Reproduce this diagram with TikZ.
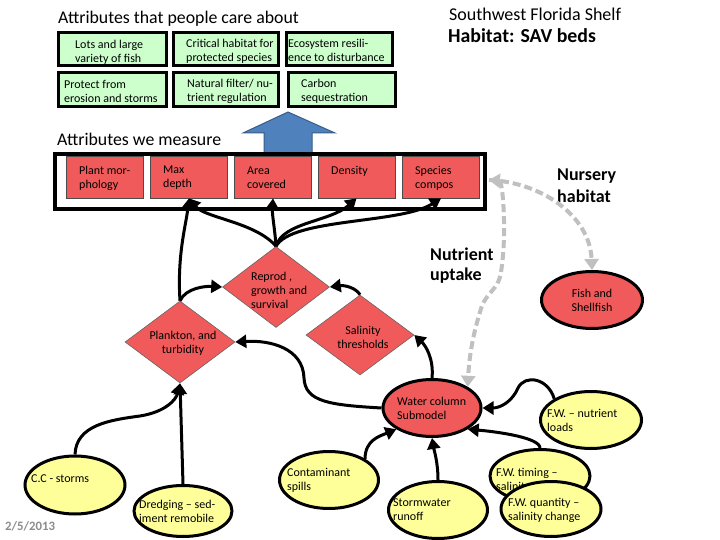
\documentclass[tikz,border=0pt]{standalone}
\usepackage{fontspec}
\setmainfont{Carlito}
\usetikzlibrary{shapes.geometric,arrows.meta}
\definecolor{grn}{HTML}{CCFFCC}
\definecolor{rd}{HTML}{F05A5A}
\definecolor{yl}{HTML}{FFFF99}
\definecolor{bl}{HTML}{4F81BD}
\definecolor{bld}{HTML}{385D8A}
\definecolor{gr}{HTML}{C0C0C0}
\begin{document}
\begin{tikzpicture}[x=1pt,y=-1pt,
  txt/.style={inner sep=0pt, align=left, font=\fontsize{12}{14}\selectfont},
  ctxt/.style={inner sep=0pt, align=center, font=\fontsize{12}{14}\selectfont},
  gbox/.style={draw=black, line width=3pt, fill=grn, inner sep=0pt},
  rbox/.style={draw=black!70, line width=0.8pt, fill=rd, inner sep=0pt, minimum width=77pt, minimum height=42pt},
  dia/.style={diamond, draw=black!60, line width=0.6pt, fill=rd, inner sep=0pt},
  ell/.style={ellipse, draw=black, line width=3pt, fill=yl, inner sep=0pt},
  rell/.style={ellipse, draw=black, line width=3pt, fill=rd, inner sep=0pt},
  arr/.style={line width=3pt, -{Triangle[length=11pt,width=13pt]}},
  garr/.style={draw=gr, line width=4pt, dash pattern=on 8pt off 4pt, -{Triangle[length=11pt,width=14pt]}},
  gdarr/.style={draw=gr, line width=4pt, dash pattern=on 8pt off 4pt, {Triangle[length=11pt,width=14pt]}-{Triangle[length=11pt,width=14pt]}},
  btitle/.style={inner sep=0pt, anchor=west, font=\fontsize{17.8}{20}\selectfont},
  bold/.style={inner sep=0pt, anchor=west, align=left, font=\fontsize{18}{22}\selectfont\bfseries}
]
\useasboundingbox[fill=white] (0,0) rectangle (720,540);

% titles
\node[btitle] (t1) at (58,19) {Attributes that people care about};
\node[inner sep=0pt, anchor=west, font=\fontsize{18}{20}\selectfont] (t2) at (449,14) {Southwest Florida Shelf};
\node[inner sep=0pt, anchor=west, font=\fontsize{19.8}{22}\selectfont\bfseries] (t3) at (448,36) {Habitat: SAV beds};
\node[btitle] (t4) at (57,139) {Attributes we measure};

% green boxes
\node[gbox, minimum width=108pt, minimum height=33pt] (g1) at (112.5,49) {};
\node[gbox, minimum width=105pt, minimum height=33pt] (g2) at (226,49) {};
\node[gbox, minimum width=106pt, minimum height=33pt] (g3) at (339.5,49) {};
\node[gbox, minimum width=108pt, minimum height=34pt] (g4) at (112.5,89.5) {};
\node[gbox, minimum width=105pt, minimum height=34pt] (g5) at (226,89.5) {};
\node[gbox, minimum width=107pt, minimum height=34pt] (g6) at (342,89.5) {};
\node[txt, anchor=west] (g1t) at (75,52) {Lots and large\\variety of fish};
\node[txt, anchor=west] (g2t) at (186,51) {Critical habitat for\\protected species};
\node[txt, anchor=west] (g3t) at (288,50) {Ecosystem resili-\\ence to disturbance};
\node[txt, anchor=west] (g4t) at (64,91) {Protect from\\erosion and storms};
\node[txt, anchor=west] (g5t) at (187,91) {Natural filter/ nu-\\trient regulation};
\node[txt, anchor=west] (g6t) at (301,91) {Carbon\\sequestration};

% blue arrow
\draw[fill=bl, draw=bld, line width=1pt] (264,153) -- (264,133) -- (243,133) -- (288,112) -- (335,133) -- (312,133) -- (312,153) -- cycle;

% measured attributes
\node[draw=black, line width=4pt, fill=white, minimum width=430pt, minimum height=55pt, inner sep=0pt] (mbox) at (270,181.5) {};
\node[rbox] (pm) at (104.5,177) {};
\node[rbox] (md) at (189,177) {};
\node[rbox] (ac) at (273,177) {};
\node[rbox] (de) at (356.5,177) {};
\node[rbox] (sp) at (441,177) {};
\node[txt, anchor=west] (pmt) at (79,178) {Plant mor-\\phology};
\node[txt, anchor=west] (mdt) at (163,178) {Max\\depth};
\node[txt, anchor=west] (act) at (247,178) {Area\\covered};
\node[txt, anchor=west] (det) at (331,171) {Density};
\node[txt, anchor=west] (spt) at (415,178) {Species\\compos};

% diamonds
\node[dia, minimum width=107pt, minimum height=81pt] (rep) at (276,287) {};
\node[dia, minimum width=110pt, minimum height=82pt] (pl) at (180,342) {};
\node[dia, minimum width=108pt, minimum height=80pt] (sal) at (360,335) {};
\node[txt, anchor=west] (rept) at (251,290) {Reprod ,\\growth and\\survival};
\node[ctxt] (plt) at (183,343) {Plankton, and\\turbidity};
\node[ctxt] (salt) at (363,337) {Salinity\\thresholds};

% red ellipses
\node[rell, minimum width=98pt, minimum height=57pt] (wc) at (432,408) {};
\node[txt, anchor=west] (wct) at (397,408) {Water column\\Submodel};
\node[rell, minimum width=101pt, minimum height=57pt] (fish) at (592,300) {};
\node[ctxt] (fisht) at (592,300) {Fish and\\Shellfish};

% bold labels
\node[bold] (nurs) at (557,186) {Nursery\\habitat};
\node[bold, font=\fontsize{18}{20}\selectfont\bfseries] (nut) at (430,266) {Nutrient\\uptake};

% yellow ellipses
\node[ell, minimum width=100pt, minimum height=58pt] (cc) at (75,485) {};
\node[txt, anchor=west] (cct) at (31,479) {C.C - storms};
\node[ell, minimum width=98pt, minimum height=51pt] (dr) at (183,511) {};
\node[txt, anchor=west] (drt) at (139,511) {Dredging – sed-\\iment remobile};
\node[ell, minimum width=99pt, minimum height=57pt] (cont) at (329,480) {};
\node[txt, anchor=west] (contt) at (287,480) {Contaminant\\spills};
\node[ell, minimum width=99pt, minimum height=57pt] (storm) at (438,510) {};
\node[txt, anchor=west] (stormt) at (393,510) {Stormwater\\runoff};
\node[ell, minimum width=101pt, minimum height=57pt] (fwn) at (591,420) {};
\node[txt, anchor=west] (fwnt) at (547,420) {F.W. – nutrient\\loads};
\node[ell, minimum width=100pt, minimum height=53pt] (fwt) at (540,476) {};
\node[txt, anchor=west] (fwtt) at (496,480) {F.W. timing –\\salinity};
\node[ell, minimum width=100pt, minimum height=55pt] (fwq) at (551,509) {};
\node[txt, anchor=west] (fwqt) at (508,510) {F.W. quantity –\\salinity change};

% date
\node[inner sep=0pt, anchor=west, text=black!45, font=\fontsize{12.8}{14}\selectfont\bfseries] (date) at (5,526) {2/5/2013};

% black connectors
\draw[arr] (rep.north) .. controls (255,222) and (205,218) .. (md.south);
\draw[arr] (pl.north) .. controls (177,255) and (186,225) .. (md.south);
\draw[arr] (rep.north) .. controls (275,230) and (272,215) .. (ac.south);
\draw[arr] (rep.north) .. controls (283,222) and (330,222) .. (de.south);
\draw[arr] (rep.north) .. controls (292,218) and (400,224) .. (sp.south);
\draw[arr] (pl.north) .. controls (186,288) and (205,286) .. (rep.west);
\draw[arr] (sal.north) .. controls (356,288) and (345,285) .. (rep.east);
\draw[arr] (wc.north) .. controls (434,358) and (425,345) .. (sal.east);
\draw[arr] (wc.west) .. controls (330,405) and (305,402) .. (304,378) .. controls (303,348) and (270,340) .. (pl.east);
\draw[arr] (dr.north) -- (pl.south);
\draw[arr] (cc.north) .. controls (76,425) and (110,420) .. (140,416) .. controls (165,412) and (176,400) .. (pl.south);
\draw[arr] (cont.north east) .. controls (365,440) and (380,436) .. (wc.south west);
\draw[arr] (storm.north) .. controls (438,462) and (434,450) .. (wc.south);
\draw[arr] (fwt.north) .. controls (540,438) and (500,432) .. (wc.south east);
\draw[arr] (fwn.north west) .. controls (548,378) and (525,374) .. (518,388) .. controls (512,402) and (500,408) .. (wc.east);

% gray dashed connectors
\coordinate (gs) at (489,180);
\draw[garr] (gs) .. controls (540,182) and (590,215) .. (fish.north);
\draw[gdarr] (gs) .. controls (503,181) and (507,235) .. (501,272) .. controls (498,292) and (486,290) .. (480,312) .. controls (472,338) and (469,360) .. (wc.north east);
\end{tikzpicture}
\end{document}
